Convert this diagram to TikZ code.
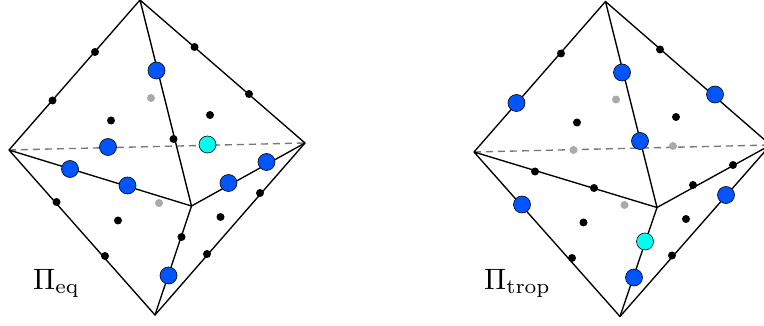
\documentclass[tikz,border=0pt]{standalone}
\usepackage{graphicx}
\definecolor{dotblue}{HTML}{0055FF}
\definecolor{dotcyan}{HTML}{00FFEE}
\definecolor{dotgray}{HTML}{AAAAAA}
\definecolor{dashgray}{HTML}{777777}
\tikzset{
  edge/.style={draw=black,line width=1.35pt,line cap=round,line join=round},
  hidden/.style={draw=dashgray,line width=1.35pt,dash pattern=on 7pt off 5pt},
  smalldot/.style={circle,fill=black,draw=none,inner sep=0pt,minimum size=8pt},
  graydot/.style={circle,fill=dotgray,draw=none,inner sep=0pt,minimum size=8pt},
  bluedot/.style={circle,fill=dotblue,draw=black,line width=0.6pt,inner sep=0pt,minimum size=17pt},
  cyandot/.style={circle,fill=dotcyan,draw=black,line width=0.6pt,inner sep=0pt,minimum size=17pt},
  lab/.style={inner sep=0pt,anchor=base west}
}
\begin{document}
\begin{tikzpicture}[x=1pt,y=-1pt]
\useasboundingbox (0,0) rectangle (764,326);
\clip (0,0) rectangle (764,326);
% left polytope
\coordinate (Ta) at (140,0);
\coordinate (La) at (9,150);
\coordinate (Ra) at (305,143);
\coordinate (Ba) at (155,315);
\coordinate (Ca) at (191.5,206);
\draw[hidden] (La) -- (Ra);
\draw[edge] (Ta) -- (La) -- (Ba) -- (Ra) -- (Ta) -- (Ca) -- (La);
\draw[edge] (Ca) -- (Ra);
\draw[edge] (Ca) -- (Ba);
\foreach \n/\x/\y in {a1/95/52,a2/52.5/100.5,a3/194.5/47,a4/249/94,a5/111/120.5,a6/210/115,a7/173.5/139,a8/56.5/202,a9/105/256,a10/118/220.5,a11/220.5/217,a12/181.5/237,a13/207/254,a14/260/193}
  \node[smalldot] (\n) at (\x,\y) {};
\foreach \n/\x/\y in {ag1/151/98,ag2/159/203}
  \node[graydot] (\n) at (\x,\y) {};
\foreach \n/\x/\y in {ab1/156.5/70.5,ab2/108/147,ab3/70/169,ab4/127.5/185.5,ab5/228.5/183,ab6/266.5/162,ab7/168.5/275.5}
  \node[bluedot] (\n) at (\x,\y) {};
\node[cyandot] (ac) at (207.5,144.5) {};
\node[lab] (la) at (33,289) {\scalebox{2.95}{$\Pi_{\mathrm{eq}}$}};
% right polytope
\coordinate (Tb) at (605.5,1.5);
\coordinate (Lb) at (474,152);
\coordinate (Rb) at (770.5,145);
\coordinate (Bb) at (620,316.5);
\coordinate (Cb) at (657,207.5);
\draw[hidden] (Lb) -- (Rb);
\draw[edge] (Tb) -- (Lb) -- (Bb) -- (Rb) -- (Tb) -- (Cb) -- (Lb);
\draw[edge] (Cb) -- (Rb);
\draw[edge] (Cb) -- (Bb);
\foreach \n/\x/\y in {b1/561/53.5,b2/660/49.5,b3/577/122.5,b4/676/117,b5/535/171.5,b6/594/188,b7/693/185,b8/733/165,b9/583.5/222.5,b10/686/219,b11/572/258,b12/672/255.5}
  \node[smalldot] (\n) at (\x,\y) {};
\foreach \n/\x/\y in {bg1/616/99.5,bg2/573.5/150,bg3/673/146,bg4/624.5/205}
  \node[graydot] (\n) at (\x,\y) {};
\foreach \n/\x/\y in {bb1/516.5/103,bb2/622/72.5,bb3/715/94.5,bb4/640/141,bb5/522/204.5,bb6/726/195,bb7/634/277.5}
  \node[bluedot] (\n) at (\x,\y) {};
\node[cyandot] (bc) at (645,241.5) {};
\node[lab] (lb) at (484,289) {\scalebox{2.95}{$\Pi_{\mathrm{trop}}$}};
\end{tikzpicture}
\end{document}
